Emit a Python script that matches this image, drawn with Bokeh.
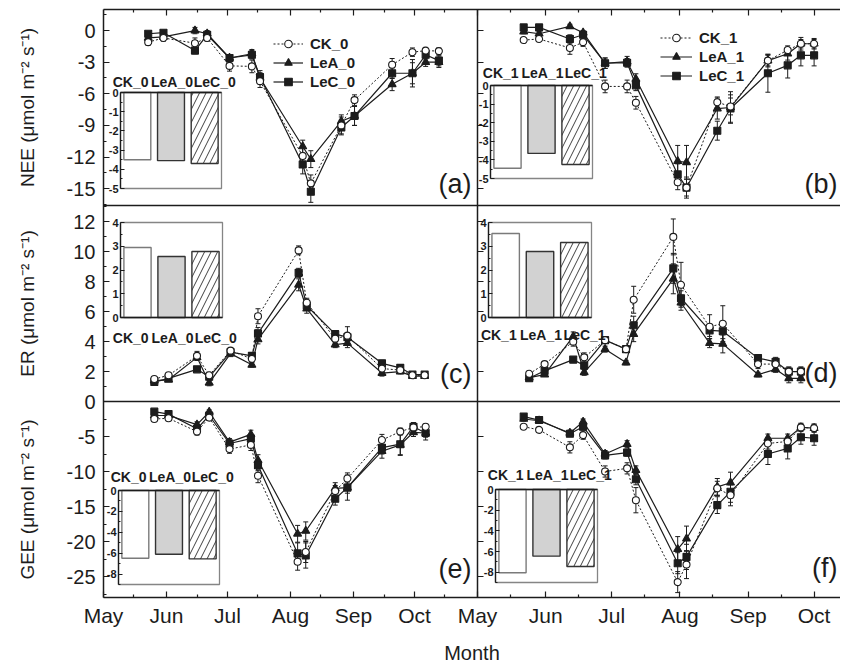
from bokeh.plotting import figure
from bokeh.layouts import row
from bokeh.models import (Range1d, LinearAxis, FixedTicker, Whisker, TeeHead,
                          ColumnDataSource, Legend, LegendItem, Label)
from bokeh.core.properties import field
from bokeh.embed import file_html
from bokeh.resources import INLINE

# ======================= DATA =======================
# x axis: day of year
month_ticks = [121, 152, 182, 213, 244, 274]
month_labels = ["May", "Jun", "Jul", "Aug", "Sep", "Oct"]
mid_month_ticks = [136, 167, 197, 228, 259, 289]

# sampling dates (day of year)
doy_a = [143, 150.5, 166, 172, 183, 194, 198, 219, 223, 238, 244.5, 263, 273, 279.5, 286]
doy_c = [146, 153, 167, 173, 183.5, 194, 197, 217, 221, 235, 241, 258, 267, 273, 279]
doy_e = [146, 153, 167, 173, 183, 193.5, 197, 216.5, 220.5, 235, 241, 258, 267, 273.5, 279.5]
doy_b = [142, 149, 163, 169, 179, 189, 193, 212, 216, 230, 236, 253, 262, 268, 274]
doy_d = [144.5, 151.5, 164.5, 169.5, 179, 188.5, 192, 210, 213.5, 226.5, 232.5, 248.5, 256.5, 262.5, 268]
doy_f = [142, 149, 163, 169, 179, 189, 193, 212, 216, 230, 236, 253, 262, 268, 274]

# (a) NEE, year 0
a_ck = [-1.1, -0.7, -1.2, -0.7, -3.35, -3.4, -4.8, -11.9, -14.5, -9.0, -6.6, -3.25, -2.05, -1.9, -1.95]
a_lea = [-0.7, -0.6, 0.0, -0.3, -2.6, -2.2, -4.5, -11.0, -12.2, -8.6, -8.1, -5.1, -4.05, -3.0, -3.0]
a_lec = [-0.3, -0.2, -1.9, -0.4, -2.6, -2.3, -4.4, -12.7, -15.3, -9.2, -8.1, -4.05, -4.05, -2.3, -2.85]
a_ck_err = [0.3, 0.3, 0.5, 0.3, 0.5, 0.6, 0.6, 0.9, 0.8, 0.8, 0.5, 0.6, 0.4, 0.3, 0.3]
a_lea_err = [0.2, 0.2, 0.3, 0.3, 0.3, 0.4, 0.5, 0.6, 0.8, 0.6, 0.9, 0.6, 1.0, 0.4, 0.5]
a_lec_err = [0.2, 0.2, 0.3, 0.3, 0.3, 0.4, 0.6, 0.9, 1.0, 0.7, 0.9, 0.5, 1.3, 0.4, 0.5]

# (b) NEE, year 1
b_ck = [-0.9, -0.8, -1.65, -1.1, -5.3, -5.3, -6.85, -14.4, -14.9, -6.8, -7.2, -2.85, -1.85, -1.25, -1.25]
b_lea = [-0.1, -0.3, 0.4, -0.2, -3.1, -2.95, -4.6, -12.4, -12.5, -7.4, -7.3, -2.85, -2.2, -1.25, -1.25]
b_lec = [0.3, 0.3, -0.8, -0.4, -3.1, -3.05, -5.2, -13.65, -14.9, -9.5, -7.4, -4.05, -3.3, -2.35, -2.35]
b_ck_err = [0.2, 0.2, 0.6, 0.4, 0.6, 0.6, 0.6, 0.7, 0.8, 0.5, 0.8, 0.5, 0.4, 0.4, 0.4]
b_lea_err = [0.2, 0.2, 0.2, 0.2, 0.5, 0.5, 0.5, 1.5, 1.6, 1.0, 1.5, 0.6, 0.6, 0.6, 0.5]
b_lec_err = [0.2, 0.2, 0.4, 0.3, 0.5, 0.4, 0.5, 1.0, 1.0, 0.9, 1.3, 1.8, 1.2, 1.0, 1.0]

# (c) ER, year 0
c_ck = [1.5, 1.75, 3.05, 1.75, 3.4, 2.85, 5.7, 10.1, 6.6, 4.2, 4.4, 2.2, 2.1, 1.75, 1.75]
c_lea = [1.4, 1.45, 2.95, 1.25, 3.2, 2.45, 4.15, 7.8, 6.2, 3.8, 3.9, 1.9, 2.0, 1.7, 1.7]
c_lec = [1.3, 1.55, 2.15, 1.65, 3.3, 3.05, 4.55, 8.6, 6.4, 4.5, 4.3, 2.55, 2.25, 1.8, 1.8]
c_ck_err = [0.1, 0.1, 0.3, 0.2, 0.2, 0.2, 0.5, 0.3, 0.3, 0.3, 0.6, 0.2, 0.2, 0.15, 0.15]
c_lea_err = [0.1, 0.1, 0.2, 0.2, 0.2, 0.15, 0.3, 0.4, 0.3, 0.2, 0.3, 0.2, 0.15, 0.1, 0.1]
c_lec_err = [0.1, 0.1, 0.1, 0.2, 0.2, 0.2, 0.4, 0.3, 0.3, 0.2, 0.3, 0.2, 0.2, 0.1, 0.1]

# (d) ER, year 1
d_ck = [1.85, 2.5, 4.0, 2.95, 4.1, 3.5, 6.8, 11.0, 7.8, 5.0, 5.2, 2.5, 2.5, 2.0, 2.0]
d_lea = [1.6, 1.8, 4.35, 1.95, 3.5, 2.6, 4.5, 8.2, 6.6, 3.9, 3.85, 1.8, 2.15, 1.55, 1.55]
d_lec = [1.55, 2.05, 2.8, 2.4, 4.1, 3.5, 5.1, 8.9, 6.9, 4.75, 4.7, 2.9, 2.65, 2.0, 2.0]
d_ck_err = [0.1, 0.15, 0.3, 0.3, 0.2, 0.15, 0.9, 1.2, 1.5, 0.8, 1.2, 0.3, 0.3, 0.3, 0.3]
d_lea_err = [0.1, 0.1, 0.3, 0.2, 0.2, 0.15, 0.5, 1.0, 0.5, 0.3, 0.6, 0.15, 0.2, 0.3, 0.3]
d_lec_err = [0.1, 0.1, 0.1, 0.2, 0.2, 0.15, 0.6, 1.0, 0.5, 0.4, 0.5, 0.2, 0.3, 0.3, 0.3]

# (e) GEE, year 0
e_ck = [-2.5, -2.4, -4.3, -2.3, -6.8, -6.2, -10.6, -22.9, -21.5, -12.8, -11.0, -5.5, -4.3, -3.7, -3.6]
e_lea = [-2.0, -2.0, -3.3, -1.5, -5.8, -4.7, -8.4, -18.9, -18.5, -12.4, -12.3, -7.1, -6.2, -4.4, -4.5]
e_lec = [-1.45, -1.8, -3.9, -2.0, -6.0, -5.3, -9.1, -21.7, -22.0, -13.9, -12.3, -6.6, -6.1, -3.6, -4.5]
e_ck_err = [0.3, 0.3, 0.5, 0.3, 0.6, 0.8, 1.0, 1.2, 1.5, 0.8, 0.8, 0.8, 0.5, 0.4, 0.4]
e_lea_err = [0.3, 0.3, 0.4, 0.3, 0.5, 0.6, 0.8, 1.2, 1.3, 0.8, 0.8, 1.0, 1.5, 0.6, 0.6]
e_lec_err = [0.3, 0.3, 0.4, 0.3, 0.5, 0.6, 0.8, 1.5, 1.8, 0.9, 1.8, 0.9, 1.5, 0.6, 1.0]

# (f) GEE, year 1
f_ck = [-3.6, -4.05, -6.55, -4.8, -10.0, -9.55, -14.1, -25.8, -23.3, -12.4, -13.4, -6.0, -5.7, -3.7, -3.8]
f_lea = [-2.5, -2.75, -4.5, -2.9, -7.5, -6.1, -9.8, -21.1, -19.6, -12.2, -11.6, -5.25, -5.25, -3.7, -3.8]
f_lec = [-2.15, -2.65, -4.6, -3.6, -7.7, -7.3, -11.1, -23.1, -22.2, -14.8, -12.9, -7.5, -6.7, -5.1, -5.25]
f_ck_err = [0.3, 0.3, 0.8, 0.6, 0.8, 0.8, 1.8, 1.5, 2.0, 1.0, 1.5, 0.8, 0.6, 0.5, 0.5]
f_lea_err = [0.3, 0.3, 0.4, 0.4, 0.5, 0.5, 0.6, 1.8, 1.8, 1.2, 1.5, 0.6, 0.6, 0.6, 0.6]
f_lec_err = [0.3, 0.3, 0.4, 0.4, 0.5, 0.5, 0.8, 1.5, 1.8, 1.2, 1.5, 1.5, 1.5, 1.0, 1.0]

series_0 = ["CK_0", "LeA_0", "LeC_0"]
series_1 = ["CK_1", "LeA_1", "LeC_1"]

# main y axes
nee_ticks = [-15, -12, -9, -6, -3, 0]
nee_tick_labels = ["-15", "-12", "-9", "-6", "-3", "0"]
nee_minor = [-16.5, -13.5, -10.5, -7.5, -4.5, -1.5, 1.5]
er_ticks = [2, 4, 6, 8, 10, 12]          # the shared "0" is labelled by the GEE axis
er_tick_labels = ["2", "4", "6", "8", "10", "12"]
er_minor = [1, 3, 5, 7, 9, 11, 13]
gee_ticks = [-25, -20, -15, -10, -5, 0]
gee_tick_labels = ["-25", "-20", "-15", "-10", "-5", "0"]
gee_minor = [-27.5, -22.5, -17.5, -12.5, -7.5, -2.5]

# inset bar charts (seasonal means)
inset_pos = [1, 2, 3]
inset_x_lim = (0.5, 3.5)
ins_a = [-3.5, -3.55, -3.7]
ins_b = [-4.45, -3.65, -4.25]
ins_c = [2.95, 2.57, 2.78]
ins_d = [3.54, 2.78, 3.16]
ins_e = [-6.48, -6.1, -6.55]
ins_f = [-8.05, -6.45, -7.45]
ins_nee_lim = (-5, 0)
ins_er_lim = (0, 4)
ins_gee_lim = (-9, 0)
ins_nee_ticks = [-5, -4, -3, -2, -1, 0]
ins_nee_labels = ["-5", "-4", "-3", "-2", "-1", "0"]
ins_nee_minor = [-4.5, -3.5, -2.5, -1.5, -0.5]
ins_er_ticks = [0, 1, 2, 3, 4]
ins_er_labels = ["0", "1", "2", "3", "4"]
ins_er_minor = [0.5, 1.5, 2.5, 3.5]
ins_gee_ticks = [-8, -6, -4, -2, 0]
ins_gee_labels = ["-8", "-6", "-4", "-2", "0"]
ins_gee_minor = [-9, -7, -5, -3, -1]

# ======================= LAYOUT / STYLE =======================
FONT = "Liberation Sans"
INK = "#1c1c1c"
BOX_GRAY = "#858585"
TITLE_W = 40             # narrow strip holding the rotated y titles
FRAME_L, FRAME_T = 103, 9
BOTTOM = 66
FW = 737                 # frame: x 103 -> 840
ROW_H = 196
FH = 3 * ROW_H
LEFT_W = 374             # width of the left column
LEFT_PX_PER_DAY = LEFT_W / 184.0
RIGHT_PX_PER_DAY = 2.2
X_START = 121.0
LEFT_BOUNDARY = 305.0    # Nov 1: where the left column ends
LEFT_RANGE = (X_START, X_START + FW / LEFT_PX_PER_DAY)
RIGHT_RANGE = (X_START - LEFT_W / RIGHT_PX_PER_DAY, X_START + (FW - LEFT_W) / RIGHT_PX_PER_DAY)
MASTER_Y = (0.0, float(FH))
TITLE_X = 27             # centre of the y titles, px from the left edge
label_nudge = [-0.2, 0.03, 0.3]   # category labels of the insets sit a bit apart

bar_fill = ["white", "#d2d2d2", "white"]
bar_line = ["#7a7a7a", "#333333", "#333333"]
bar_hatch = [" ", " ", "/"]


def band_y(lo, hi, top_px, bottom_px):
    s = (hi - lo) / (bottom_px - top_px)
    return Range1d(lo - (FH - bottom_px) * s, hi + top_px * s)


def band_x(d0, d1, left_px, right_px):
    s = (d1 - d0) / (right_px - left_px)
    return Range1d(d0 - left_px * s, d1 + (FW - right_px) * s)


def remap(v, src, dst):
    """position of value v of range src expressed in range dst (same screen spot)"""
    return dst[0] + (v - src[0]) / (src[1] - src[0]) * (dst[1] - dst[0])


def style_ax(ax, major_in=6, minor_in=3):
    ax.major_tick_in = major_in
    ax.major_tick_out = 0
    ax.minor_tick_in = minor_in
    ax.minor_tick_out = 0
    ax.axis_line_color = INK
    ax.major_tick_line_color = INK
    ax.minor_tick_line_color = INK
    ax.axis_line_width = 1.5
    ax.major_tick_line_width = 1.2
    ax.minor_tick_line_width = 1.2
    ax.major_label_text_font = FONT
    ax.major_label_text_color = INK
    ax.axis_label = None


def tick_only_axis(p, side, positions, length, line=True, **kw):
    ax = LinearAxis(ticker=FixedTicker(ticks=[], minor_ticks=positions), **kw)
    style_ax(ax, major_in=0, minor_in=length)
    if not line:
        ax.axis_line_color = None
    p.add_layout(ax, side)
    return ax


def draw_series(p, x, vals, errs, xname, yname):
    kw = {"y_range_name": yname}
    if xname is not None:
        kw["x_range_name"] = xname
    styles = [
        dict(dash="solid", marker="triangle", size=8, fill=INK, lw=1.2),   # LeA
        dict(dash="solid", marker="square", size=7, fill=INK, lw=1.2),     # LeC
        dict(dash="2 2", marker="circle", size=7, fill="white", lw=1.0),   # CK
    ]
    order = [1, 2, 0]
    rends = {}
    for k, st in zip(order, styles):
        y = vals[k]
        e = errs[k]
        src = ColumnDataSource(dict(x=x, y=y,
                                    up=[v + d for v, d in zip(y, e)],
                                    lo=[v - d for v, d in zip(y, e)]))
        wk = Whisker(source=src, base="x", upper="up", lower="lo", dimension="height",
                     line_color=INK, line_width=1,
                     upper_head=TeeHead(size=5, line_color=INK, line_width=1),
                     lower_head=TeeHead(size=5, line_color=INK, line_width=1), **kw)
        p.add_layout(wk)
        ln = p.line("x", "y", source=src, line_color=INK, line_width=st["lw"],
                    line_dash=st["dash"], **kw)
        sc = p.scatter("x", "y", source=src, marker=st["marker"], size=st["size"],
                       fill_color=st["fill"], line_color=INK, line_width=1.1, **kw)
        rends[k] = [ln, sc]
    return [rends[0], rends[1], rends[2]]


def draw_inset(p, key, vals, labels, lim, ticks, tick_labels, minor, box, cat_side, cat_standoff):
    l, t, r, b = box
    x0, x1 = inset_x_lim
    lo, hi = lim
    p.extra_x_ranges["ix" + key] = band_x(x0, x1, l, r)
    p.extra_y_ranges["iy" + key] = band_y(lo, hi, t, b)
    kw = dict(x_range_name="ix" + key, y_range_name="iy" + key)

    p.quad(left=[x0], right=[x1], bottom=[lo], top=[hi], fill_color="white",
           line_color=BOX_GRAY, line_width=1.3, **kw)
    src = ColumnDataSource(dict(x=inset_pos, top=vals, fill=bar_fill, line=bar_line, hatch=bar_hatch))
    p.vbar(x="x", top="top", bottom=0, width=0.8, source=src, fill_color="fill",
           line_color="line", line_width=1.4, hatch_pattern=field("hatch"),
           hatch_color="#2a2a2a", hatch_scale=13, hatch_weight=0.9, **kw)

    ay = LinearAxis(fixed_location=x0, bounds=(lo, hi),
                    ticker=FixedTicker(ticks=ticks, minor_ticks=minor),
                    major_label_overrides=dict(zip(ticks, tick_labels)), **kw)
    style_ax(ay, major_in=4, minor_in=2)
    ay.axis_line_width = 1.3
    ay.major_label_standoff = 2
    ay.major_label_text_font_size = "11px"
    ay.major_label_text_font_style = "bold"
    p.add_layout(ay, "left")

    lab_pos = [q + n for q, n in zip(inset_pos, label_nudge)]
    ax = LinearAxis(fixed_location=0, bounds=inset_x_lim,
                    ticker=FixedTicker(ticks=lab_pos, minor_ticks=[]),
                    major_label_overrides=dict(zip(lab_pos, labels)), **kw)
    style_ax(ax, major_in=0, minor_in=0)
    ax.axis_line_width = 1.3
    ax.major_label_standoff = cat_standoff
    ax.major_label_text_font_size = "14px"
    ax.major_label_text_font_style = "bold"
    p.add_layout(ax, cat_side)


def add_legend(p, rends, names, loc, gw):
    items = [LegendItem(label=n, renderers=r) for n, r in zip(names, rends)]
    leg = Legend(items=items, location=loc, orientation="vertical",
                 background_fill_alpha=0, border_line_color=None, padding=0, margin=0,
                 spacing=0, glyph_width=gw, glyph_height=19, label_height=19,
                 label_standoff=7, label_text_font=FONT, label_text_font_size="15px",
                 label_text_font_style="bold", label_text_color=INK)
    p.add_layout(leg)


def add_tag(p, text, x, y, xname, yname, x_off, y_off):
    kw = {"y_range_name": yname}
    if xname is not None:
        kw["x_range_name"] = xname
    p.add_layout(Label(x=x, y=y, text=text, text_font=FONT, text_font_size="27px",
                       text_color=INK, text_align="right", text_baseline="middle",
                       x_offset=x_off, y_offset=y_off, **kw))


rows = [
    dict(ylabel="NEE (μmol m⁻² s⁻¹)", yr=(-16.6, 2.0), ticks=nee_ticks, tlabels=nee_tick_labels,
         minor=nee_minor,
         left=dict(x=doy_a, vals=[a_ck, a_lea, a_lec], errs=[a_ck_err, a_lea_err, a_lec_err],
                   ins=ins_a, box=(17, 83, 118, 179), tag="(a)", tag_y=22),
         right=dict(x=doy_b, vals=[b_ck, b_lea, b_lec], errs=[b_ck_err, b_lea_err, b_lec_err],
                    ins=ins_b, box=(387, 76, 489, 169), tag="(b)", tag_y=22),
         ilim=ins_nee_lim, iticks=ins_nee_ticks, ilabels=ins_nee_labels, iminor=ins_nee_minor,
         cat_side="above", cat_so=(3, 5)),
    dict(ylabel="ER (μmol m⁻² s⁻¹)", yr=(0.0, 13.1), ticks=er_ticks, tlabels=er_tick_labels,
         minor=er_minor,
         left=dict(x=doy_c, vals=[c_ck, c_lea, c_lec], errs=[c_ck_err, c_lea_err, c_lec_err],
                   ins=ins_c, box=(17, 17, 119, 112), tag="(c)", tag_y=28),
         right=dict(x=doy_d, vals=[d_ck, d_lea, d_lec], errs=[d_ck_err, d_lea_err, d_lec_err],
                    ins=ins_d, box=(385, 17, 488, 112), tag="(d)", tag_y=29),
         ilim=ins_er_lim, iticks=ins_er_ticks, ilabels=ins_er_labels, iminor=ins_er_minor,
         cat_side="below", cat_so=(12, 9)),
    dict(ylabel="GEE (μmol m⁻² s⁻¹)", yr=(-28.0, 0.0), ticks=gee_ticks, tlabels=gee_tick_labels,
         minor=gee_minor,
         left=dict(x=doy_e, vals=[e_ck, e_lea, e_lec], errs=[e_ck_err, e_lea_err, e_lec_err],
                   ins=ins_e, box=(15, 89, 116, 183), tag="(e)", tag_y=29),
         right=dict(x=doy_f, vals=[f_ck, f_lea, f_lec], errs=[f_ck_err, f_lea_err, f_lec_err],
                    ins=ins_f, box=(392, 88, 494, 181), tag="(f)", tag_y=30),
         ilim=ins_gee_lim, iticks=ins_gee_ticks, ilabels=ins_gee_labels, iminor=ins_gee_minor,
         cat_side="above", cat_so=(6, 7)),
]

# ---- strip with the y titles (same vertical geometry as the main frame) ----
pt = figure(frame_width=TITLE_W, frame_height=FH,
            min_border_left=0, min_border_right=0, min_border_top=FRAME_T,
            min_border_bottom=BOTTOM, x_range=Range1d(0, TITLE_W), y_range=Range1d(*MASTER_Y),
            x_axis_location=None, y_axis_location=None, toolbar_location=None,
            output_backend="svg", outline_line_color=None,
            background_fill_color="white", border_fill_color="white")
pt.grid.visible = False

# ---- main plot ----
p = figure(frame_width=FW, frame_height=FH,
           min_border_left=FRAME_L - TITLE_W, min_border_top=FRAME_T,
           min_border_right=0, min_border_bottom=BOTTOM,
           x_range=Range1d(*LEFT_RANGE), y_range=Range1d(*MASTER_Y),
           x_axis_location="below", y_axis_location="left",
           toolbar_location=None, output_backend="svg", outline_line_color=None,
           background_fill_color="white", border_fill_color="white")
p.extra_x_ranges["right"] = Range1d(*RIGHT_RANGE)
p.grid.visible = False

# bottom month axis: one axis carrying the ticks of both columns
xa = p.below[0]
bt_major, bt_labels, bt_minor = [], [], []
for m, lab in zip(month_ticks, month_labels):
    bt_major.append(float(m))
    bt_labels.append(lab)
for m, lab in zip(month_ticks, month_labels):
    bt_major.append(remap(m, RIGHT_RANGE, LEFT_RANGE))
    bt_labels.append(lab)
for m in mid_month_ticks:
    if m < LEFT_BOUNDARY:
        bt_minor.append(float(m))
    rm = remap(m, RIGHT_RANGE, LEFT_RANGE)
    if rm < LEFT_RANGE[1]:
        bt_minor.append(rm)
xa.ticker = FixedTicker(ticks=bt_major, minor_ticks=bt_minor)
xa.major_label_overrides = dict(zip(bt_major, bt_labels))
style_ax(xa)
xa.major_label_standoff = 6
xa.major_label_text_font_size = "21px"
xa.axis_label = "Month"
xa.axis_label_text_font = FONT
xa.axis_label_text_font_size = "20px"
xa.axis_label_text_font_style = "normal"
xa.axis_label_text_color = INK
xa.axis_label_standoff = 12

# top edge line
tick_only_axis(p, "above", [], 0)

ly_major, ly_labels, ly_minor = [], [], []

for i, spec in enumerate(rows):
    yn = "y%d" % i
    lo, hi = spec["yr"]
    rng = band_y(lo, hi, i * ROW_H, (i + 1) * ROW_H)
    p.extra_y_ranges[yn] = rng
    rr_ = (rng.start, rng.end)
    for t, s in zip(spec["ticks"], spec["tlabels"]):
        ly_major.append(remap(t, rr_, MASTER_Y))
        ly_labels.append(s)
    for t in spec["minor"]:
        if lo <= t <= hi:
            ly_minor.append(remap(t, rr_, MASTER_Y))

    # y title of the row, centred on the row
    pt.add_layout(Label(x=TITLE_X, y=remap((lo + hi) / 2, rr_, MASTER_Y),
                        text=spec["ylabel"], angle=90, angle_units="deg",
                        text_align="center", text_baseline="middle", text_font=FONT,
                        text_font_size="19px", text_color=INK))

    # boundary between the columns = y axis of the right column (ticks only)
    tick_only_axis(p, "left", spec["ticks"], 6, y_range_name=yn,
                   fixed_location=LEFT_BOUNDARY, bounds=(lo, hi))

    # upper edge of the row
    if i == 0:
        tick_only_axis(p, "above", month_ticks, 6, line=False, y_range_name=yn, fixed_location=hi)
        tick_only_axis(p, "above", mid_month_ticks, 3, line=False, y_range_name=yn, fixed_location=hi)
        tick_only_axis(p, "above", month_ticks, 6, line=False, x_range_name="right",
                       y_range_name=yn, fixed_location=hi)
        tick_only_axis(p, "above", mid_month_ticks, 3, line=False, x_range_name="right",
                       y_range_name=yn, fixed_location=hi)
    else:
        tick_only_axis(p, "above", [], 0, y_range_name=yn, fixed_location=hi)

    # insets
    off = i * ROW_H
    for key, side, names, so in (("L%d" % i, "left", series_0, spec["cat_so"][0]),
                                 ("R%d" % i, "right", series_1, spec["cat_so"][1])):
        d = spec[side]
        l, t, r, b = d["box"]
        draw_inset(p, key, d["ins"], names, spec["ilim"], spec["iticks"], spec["ilabels"],
                   spec["iminor"], (l, t + off, r, b + off), spec["cat_side"], so)

    # time series
    rl = draw_series(p, spec["left"]["x"], spec["left"]["vals"], spec["left"]["errs"], None, yn)
    rr = draw_series(p, spec["right"]["x"], spec["right"]["vals"], spec["right"]["errs"], "right", yn)

    if i == 0:
        add_legend(p, rl, series_0, (170, 506), 30)
        add_legend(p, rr, series_1, (557, 512), 32)

    add_tag(p, spec["left"]["tag"], LEFT_BOUNDARY, lo, None, yn, -6, spec["left"]["tag_y"])
    add_tag(p, spec["right"]["tag"], RIGHT_RANGE[1], lo, "right", yn, -3, spec["right"]["tag_y"])

# left y axis: one axis carrying the ticks of the three rows
ya = p.left[0]
ya.ticker = FixedTicker(ticks=ly_major, minor_ticks=ly_minor)
ya.major_label_overrides = dict(zip(ly_major, ly_labels))
style_ax(ya)
ya.major_label_standoff = 8
ya.major_label_text_font_size = "20px"

layout = row(pt, p, spacing=0)
open("out.html", "w").write(file_html(layout, INLINE))
